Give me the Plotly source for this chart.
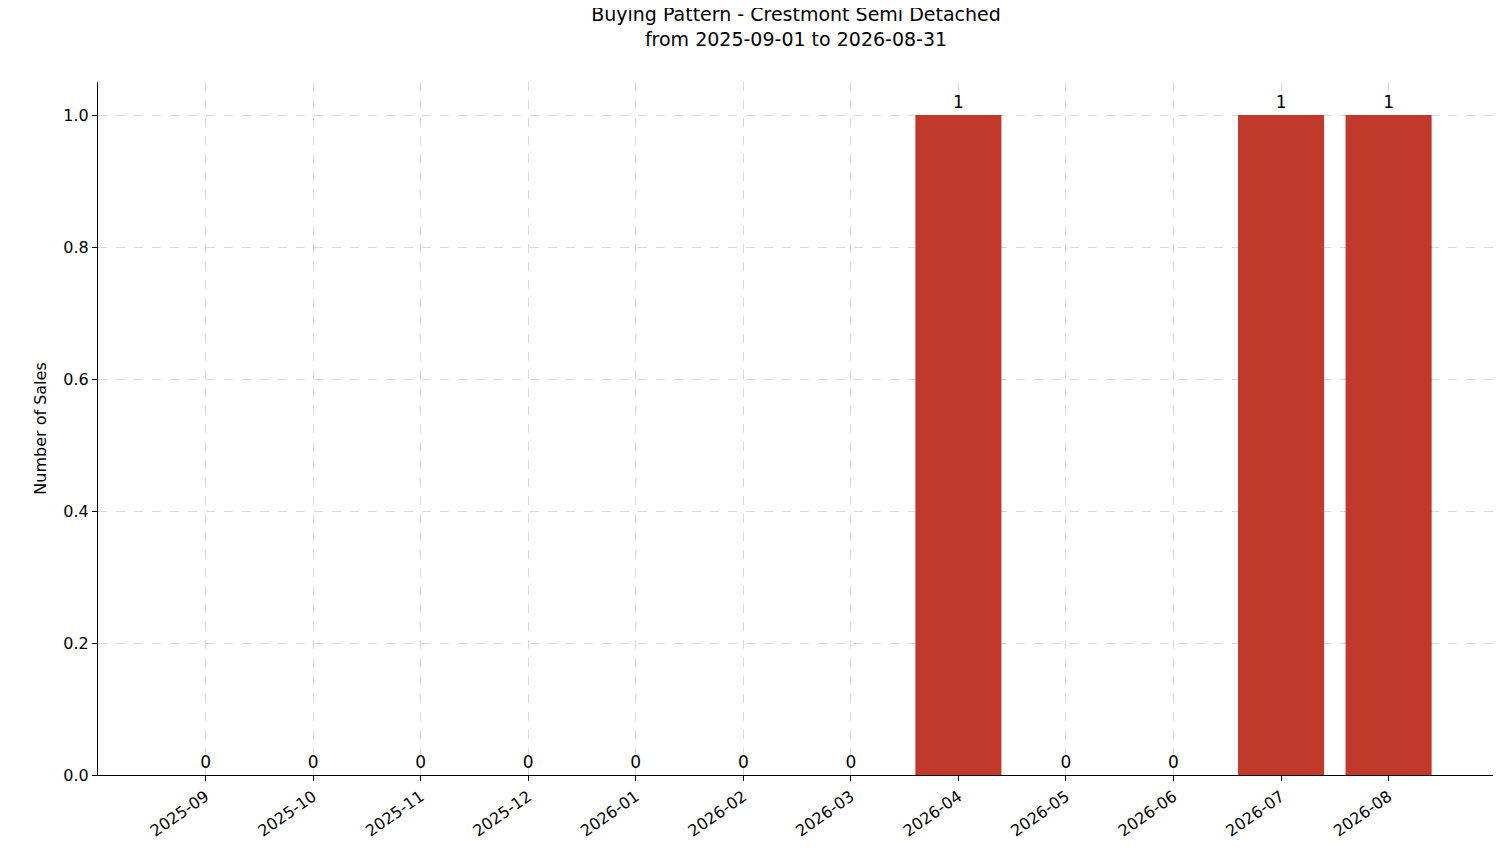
import plotly.graph_objects as go

months = ["2025-09", "2025-10", "2025-11", "2025-12", "2026-01", "2026-02",
          "2026-03", "2026-04", "2026-05", "2026-06", "2026-07", "2026-08"]
sales = [0, 0, 0, 0, 0, 0, 0, 1, 0, 0, 1, 1]

fig = go.Figure(go.Bar(
    x=months, y=sales, width=0.8, marker=dict(color="#c0392b", line=dict(width=0)),
    text=[str(v) for v in sales], textposition="outside", cliponaxis=False,
    textfont=dict(size=17, color="#000"),
))

axis_common = dict(
    showgrid=True, gridcolor="#d9d9d9", griddash="dash", gridwidth=0.8,
    showline=True, linecolor="#000", linewidth=1.2, ticks="outside", ticklen=5,
    tickcolor="#000", tickfont=dict(size=16, color="#000"), zeroline=False,
)
fig.update_xaxes(type="category", range=[-1.0, 11.98], tickangle=-35, **axis_common)
fig.update_yaxes(range=[0, 1.05], tick0=0, dtick=0.2, tickformat=".1f",
                 title=dict(text="Number of Sales", font=dict(size=16, color="#000"), standoff=12),
                 **axis_common)

fig.update_layout(
    width=1501, height=863,
    title=dict(text="Buying Pattern - Crestmont Semi Detached<br>from 2025-09-01 to 2026-08-31",
               x=0.525, xanchor="center", y=0.985, yanchor="top",
               font=dict(size=19, color="#000")),
    font=dict(family="DejaVu Sans"),
    plot_bgcolor="white", paper_bgcolor="white", showlegend=False,
    margin=dict(l=90, r=15, t=74, b=96),
)

fig.write_html("out.html")
